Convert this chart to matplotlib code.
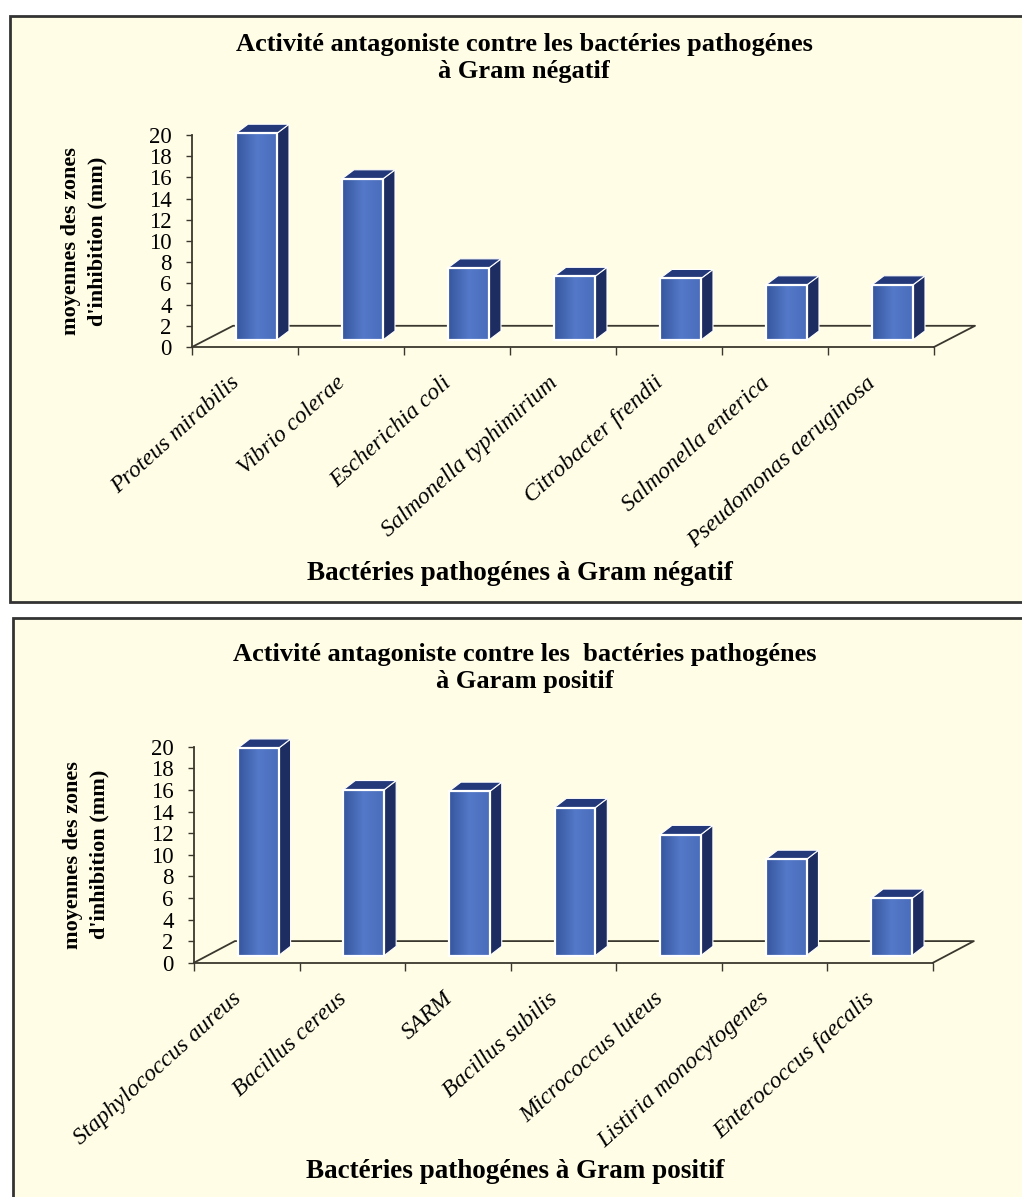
import numpy as np
import matplotlib
matplotlib.use('Agg')
import matplotlib.pyplot as plt
from matplotlib.patches import Rectangle, Polygon
from matplotlib.colors import LinearSegmentedColormap

W, H = 1022, 1197

# data
neg_labels = ['Proteus mirabilis', 'Vibrio colerae', 'Escherichia coli',
              'Salmonella typhimirium', 'Citrobacter frendii',
              'Salmonella enterica', 'Pseudomonas aeruginosa']
neg_values = [19.5, 15.2, 6.8, 6.0, 5.8, 5.2, 5.2]

pos_labels = ['Staphylococcus aureus', 'Bacillus cereus', 'SARM',
              'Bacillus subilis', 'Micrococcus luteus',
              'Listiria monocytogenes', 'Enterococcus faecalis']
pos_values = [19.2, 15.35, 15.2, 13.7, 11.2, 8.9, 5.3]

yticks = list(range(0, 21, 2))

neg_title = 'Activité antagoniste contre les bactéries pathogénes\nà Gram négatif'
pos_title = 'Activité antagoniste contre les  bactéries pathogénes\nà Garam positif'
neg_xlabel = 'Bactéries pathogénes à Gram négatif'
pos_xlabel = 'Bactéries pathogénes à Gram positif'
ylabel = "moyennes des zones\nd'inhibition (mm)"

# style
SERIF = 'Liberation Serif'
BG = '#fffde6'
LINE = '#3a382e'
SIDE = '#1d2d62'
TOP = '#23397a'
front_cmap = LinearSegmentedColormap.from_list('front', ['#36569e', '#5479c8', '#4a6dbb'])

DX, DY = 0.387, 2.0      # floor depth (category units, value units)
FRAC = 1 / 3             # bar position inside the depth
GAP, BW = 0.286, 0.387   # bar offset / width in category units
SX, SY = 0.113, 0.85     # bar depth

fig = plt.figure(figsize=(W / 100, H / 100), dpi=100)
fig.patch.set_facecolor('white')


def fx(x):
    return x / W


def fy(y):
    return 1 - y / H


def panel(x0, y0, x1, y1):
    fig.add_artist(Rectangle((fx(x0), fy(y1)), fx(x1) - fx(x0), fy(y0) - fy(y1),
                             transform=fig.transFigure, facecolor=BG,
                             edgecolor='#333333', lw=2, zorder=0))


def draw_chart(rect, values, labels, title, title_xy, xlabel, xlabel_xy):
    left, right, ybot, ytop = rect
    ax = fig.add_axes([fx(left), fy(ybot), (right - left) / W, (ybot - ytop) / H])
    ax.patch.set_visible(False)
    n = len(values)

    # floor outline (front edge is the bottom spine)
    ax.plot([0, DX, n + DX, n], [0, DY, DY, 0], color=LINE, lw=1.3,
            clip_on=False, zorder=1)

    for i, v in enumerate(values):
        x0 = i + GAP + FRAC * DX
        y0 = FRAC * DY
        x1, y1 = x0 + BW, y0 + v
        side = Polygon([(x1, y0), (x1 + SX, y0 + SY), (x1 + SX, y1 + SY), (x1, y1)],
                       closed=True, facecolor=SIDE, edgecolor='white', lw=0.8,
                       clip_on=False, zorder=2)
        top = Polygon([(x0, y1), (x0 + SX, y1 + SY), (x1 + SX, y1 + SY), (x1, y1)],
                      closed=True, facecolor=TOP, edgecolor='white', lw=0.8,
                      clip_on=False, zorder=2)
        ax.add_patch(side)
        ax.add_patch(top)
        front = Rectangle((x0, y0), BW, v, facecolor='none', edgecolor='white',
                          lw=1.6, clip_on=False, zorder=4)
        ax.add_patch(front)
        im = ax.imshow(np.linspace(0, 1, 64)[None, :], cmap=front_cmap,
                       extent=(x0, x1, y0, y1), aspect='auto',
                       interpolation='bilinear', zorder=3)
        im.set_clip_path(front)

    ax.set_xlim(0, n)
    ax.set_ylim(0, 20)
    for s in ['top', 'right']:
        ax.spines[s].set_visible(False)
    for s in ['left', 'bottom']:
        ax.spines[s].set_color(LINE)
        ax.spines[s].set_linewidth(1.3)

    ax.set_yticks(yticks)
    ax.set_yticklabels([str(t) for t in yticks], fontfamily=SERIF, fontsize=16.5)
    ax.tick_params(axis='y', direction='out', length=4.5, width=1, color=LINE,
                   pad=10)

    ax.set_xticks(range(n + 1))
    ax.set_xticklabels([])
    ax.tick_params(axis='x', which='major', direction='out', length=5.5,
                   width=1, color=LINE)
    ax.set_xticks([i + 0.42 for i in range(n)], minor=True)
    ax.set_xticklabels(labels, minor=True, rotation=42, ha='right', va='center',
                       rotation_mode='anchor', fontfamily=SERIF,
                       fontstyle='italic', fontsize=17)
    ax.tick_params(axis='x', which='minor', length=0, pad=24)

    ax.set_ylabel(ylabel, fontfamily=SERIF, fontweight='bold', fontsize=16,
                  linespacing=1.4)
    ax.yaxis.set_label_coords(-(192 - 107) / (right - left), 0.5)

    fig.text(fx(title_xy[0]), fy(title_xy[1]), title, ha='center', va='center',
             fontfamily=SERIF, fontweight='bold', fontsize=19, linespacing=1.2)
    fig.text(fx(xlabel_xy[0]), fy(xlabel_xy[1]), xlabel, ha='center', va='center',
             fontfamily=SERIF, fontweight='bold', fontsize=19.5)
    return ax


panel(10, 16, 1040, 602)
panel(13, 618, 1040, 1215)

draw_chart((192, 934, 347, 135), neg_values, neg_labels,
           neg_title, (524, 58), neg_xlabel, (520, 574))
draw_chart((194, 933, 962.7, 746.7), pos_values, pos_labels,
           pos_title, (525, 668), pos_xlabel, (515, 1171))

fig.savefig('out.png', dpi=100, facecolor=fig.get_facecolor())
